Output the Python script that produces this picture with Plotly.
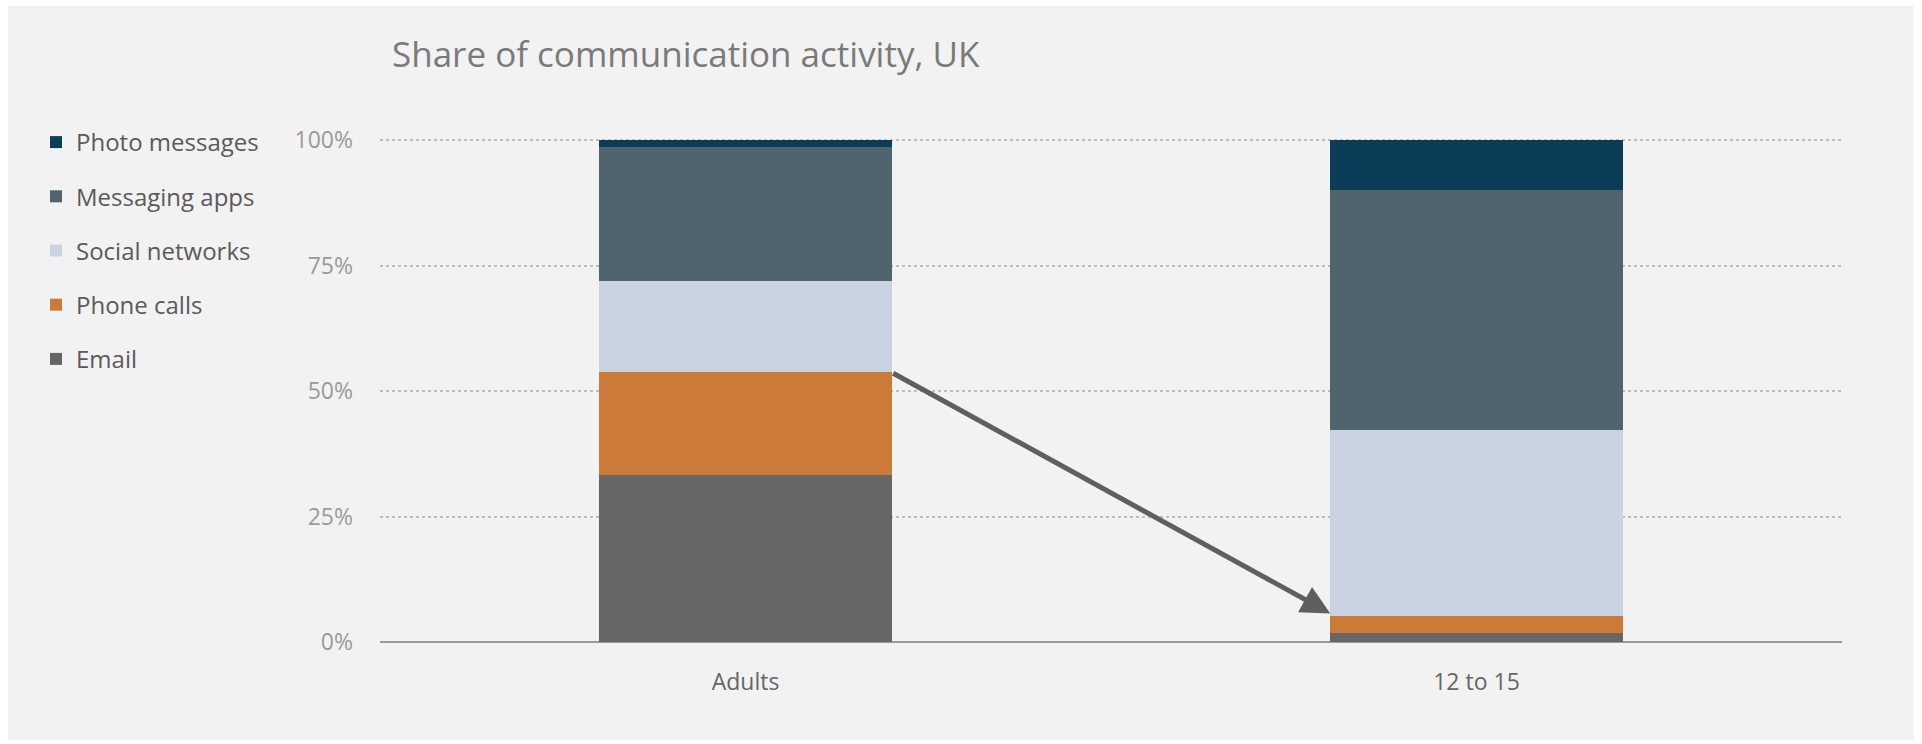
import plotly.graph_objects as go

categories = ["Adults", "12 to 15"]
series_names = ["Email", "Phone calls", "Social networks", "Messaging apps", "Photo messages"]
email = [33.3, 1.7]
phone_calls = [20.4, 3.4]
social_networks = [18.3, 37.2]
messaging_apps = [26.6, 47.8]
photo_messages = [1.4, 9.9]
tick_vals = [0, 25, 50, 75, 100]
tick_text = ["0%", "25%", "50%", "75%", "100%"]

colors = ["#666666", "#cc7a38", "#c9d3e1", "#4f646c", "#0b3d58"]
values = [email, phone_calls, social_networks, messaging_apps, photo_messages]

W, H = 1922, 744
ML, MR, MT, MB = 380, 80, 138, 102
PW, PH = W - ML - MR, H - MT - MB

fig = go.Figure()
n = len(series_names)
for i, (name, vals, col) in enumerate(zip(series_names, values, colors)):
    fig.add_trace(go.Bar(
        x=categories, y=vals, name=name, marker=dict(color=col, line=dict(width=0)),
        legendgroup=name, legendrank=(n - i) * 10, width=0.4,
    ))

def px_x(p):
    return (p - ML) / PW

def px_y(p):
    return (H - MB - p) / PH

fig.add_shape(type="rect", xref="paper", yref="paper",
              x0=px_x(8), x1=px_x(1914), y0=px_y(740), y1=px_y(6),
              fillcolor="#f2f2f2", line=dict(width=0), layer="below")

# arrow from Adults' phone-calls top to 12 to 15 lower segment
adult_phone_top = email[0] + phone_calls[0]
teen_target = email[1] + phone_calls[1] + 0.6
fig.add_annotation(x=0.8, y=teen_target, ax=0.2, ay=adult_phone_top,
                   xref="x", yref="y", axref="x", ayref="y",
                   showarrow=True, arrowhead=2, arrowsize=1.15, arrowwidth=5,
                   arrowcolor="#5f5f5f", text="")

fig.update_layout(
    width=W, height=H,
    margin=dict(l=ML, r=MR, t=MT, b=MB, autoexpand=False),
    paper_bgcolor="white", plot_bgcolor="rgba(0,0,0,0)",
    barmode="stack", bargap=0.6,
    title=dict(text="Share of communication activity, UK", x=px_x(392), xref="paper",
               xanchor="left", y=1 - 55 / H, yanchor="middle",
               font=dict(family="Open Sans", size=35, color="#7a7a7a")),
    legend=dict(traceorder="grouped", x=px_x(36), xanchor="left", y=px_y(120), yanchor="top",
                font=dict(family="Open Sans", size=24, color="#5a5a5a"),
                tracegroupgap=20, bgcolor="rgba(0,0,0,0)", itemwidth=30),
    xaxis=dict(range=[-0.5, 1.5], showgrid=False, showline=False, zeroline=False,
               ticks="", ticklabelstandoff=24,
               tickfont=dict(family="Open Sans", size=23, color="#666666")),
    yaxis=dict(range=[0, 100.4], tickvals=tick_vals, ticktext=tick_text,
               showgrid=True, gridcolor="#bdbdbd", gridwidth=2, griddash="dot",
               zeroline=True, zerolinecolor="#9a9a9a", zerolinewidth=2,
               showline=False, ticks="", ticklabelstandoff=26,
               tickfont=dict(family="Open Sans", size=23, color="#9a9a9a")),
)

fig.write_html("out.html")
